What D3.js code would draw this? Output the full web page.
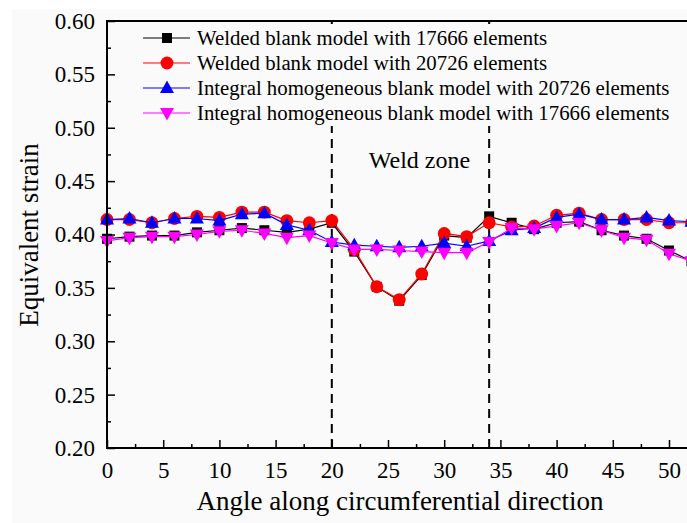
<!DOCTYPE html>
<html>
<head>
<meta charset="utf-8">
<script src="https://cdn.jsdelivr.net/npm/d3@7/dist/d3.min.js"></script>
<style>
  body { margin: 0; background: #fff; }
  svg { display: block; font-family: "Liberation Serif", "Times New Roman", serif; }
</style>
</head>
<body>
<svg id="chart" width="687" height="523"></svg>
<script>
// angle positions (deg) along the circumference
var angles = [0, 2, 4, 6, 8, 10, 12, 14, 16, 18, 20, 22, 24, 26, 28, 30, 32, 34, 36, 38, 40, 42, 44, 46, 48, 50, 52];

var welded17666 = [0.396, 0.398, 0.399, 0.399, 0.402, 0.404, 0.406, 0.404, 0.402, 0.405, 0.411, 0.384, 0.351, 0.338, 0.362, 0.399, 0.397, 0.417, 0.411, 0.405, 0.411, 0.412, 0.404, 0.399, 0.396, 0.385, 0.375];
var welded20726 = [0.414, 0.414, 0.411, 0.415, 0.417, 0.416, 0.421, 0.421, 0.413, 0.411, 0.413, 0.386, 0.351, 0.339, 0.363, 0.401, 0.398, 0.411, 0.407, 0.408, 0.418, 0.420, 0.414, 0.414, 0.414, 0.411, 0.411];
var integral20726 = [0.414, 0.415, 0.411, 0.415, 0.415, 0.413, 0.419, 0.420, 0.409, 0.404, 0.393, 0.390, 0.389, 0.388, 0.389, 0.392, 0.389, 0.394, 0.404, 0.406, 0.416, 0.419, 0.414, 0.414, 0.416, 0.413, 0.412];
var integral17666 = [0.394, 0.397, 0.398, 0.398, 0.400, 0.403, 0.404, 0.401, 0.397, 0.399, 0.392, 0.386, 0.386, 0.385, 0.384, 0.383, 0.383, 0.393, 0.406, 0.405, 0.408, 0.411, 0.404, 0.397, 0.395, 0.382, 0.375];

var seriesNames = [
  "Welded blank model with 17666 elements",
  "Welded blank model with 20726 elements",
  "Integral homogeneous blank model with 20726 elements",
  "Integral homogeneous blank model with 17666 elements"
];
var seriesColors = ["#000000", "#ff0000", "#0000ff", "#ff00ff"];
var seriesSymbols = ["square", "circle", "up", "down"];
var seriesValues = [welded17666, welded20726, integral20726, integral17666];

var xTicks = [0, 5, 10, 15, 20, 25, 30, 35, 40, 45, 50];
var yTicks = [0.20, 0.25, 0.30, 0.35, 0.40, 0.45, 0.50, 0.55, 0.60];
var weldBounds = [20, 34];

var svg = d3.select("#chart");

var plotLeft = 107, plotTop = 21, plotBottom = 448;

var x = d3.scaleLinear().domain([0, 52]).range([plotLeft, plotLeft + 52 * 11.24]);
var y = d3.scaleLinear().domain([0.2, 0.6]).range([plotBottom, plotTop]);

// light grey paper
svg.append("rect")
  .attr("x", 12).attr("y", 9)
  .attr("width", 687).attr("height", 523)
  .attr("fill", "#fafafa");

// axes: ticks point inward
var xAxis = d3.axisBottom(x).tickValues(xTicks).tickSize(-8).tickPadding(14)
  .tickFormat(d3.format("d"));
var xMinor = d3.axisBottom(x).tickValues(d3.range(2.5, 52, 5)).tickSize(-4).tickFormat("");
var yAxis = d3.axisLeft(y).tickValues(yTicks).tickSize(-8).tickPadding(12)
  .tickFormat(d3.format(".2f"));
var yMinor = d3.axisLeft(y).tickValues(d3.range(0.225, 0.6, 0.05)).tickSize(-4).tickFormat("");

function styleAxis(g) {
  g.select(".domain").remove();
  g.selectAll("line").attr("stroke", "#000").attr("stroke-width", 1.5);
  g.selectAll("text").attr("font-size", 23).attr("fill", "#000")
    .attr("font-family", "Liberation Serif, Times New Roman, serif");
}

svg.append("g").attr("transform", "translate(0," + plotBottom + ")").call(xAxis).call(styleAxis);
svg.append("g").attr("transform", "translate(0," + plotBottom + ")").call(xMinor).call(styleAxis);
svg.append("g").attr("transform", "translate(" + plotLeft + ",0)").call(yAxis).call(styleAxis);
svg.append("g").attr("transform", "translate(" + plotLeft + ",0)").call(yMinor).call(styleAxis);

// weld zone boundaries
svg.selectAll(".weld")
  .data(weldBounds)
  .enter().append("line")
  .attr("class", "weld")
  .attr("x1", function(d) { return x(d); })
  .attr("x2", function(d) { return x(d); })
  .attr("y1", plotBottom)
  .attr("y2", plotTop)
  .attr("stroke", "#000")
  .attr("stroke-width", 2)
  .attr("stroke-dasharray", "9,6");

svg.append("text")
  .attr("x", x((weldBounds[0] + weldBounds[1]) / 2) + 9)
  .attr("y", 168)
  .attr("text-anchor", "middle")
  .attr("font-size", 24)
  .text("Weld zone");

// marker shapes
function symbolPath(kind) {
  if (kind === "square") return d3.symbol().type(d3.symbolSquare).size(100)();
  if (kind === "circle") return d3.symbol().type(d3.symbolCircle).size(130)();
  if (kind === "up") return "M0,-7.5L7,5L-7,5Z";
  return "M0,7.5L7,-5L-7,-5Z";
}

var line = d3.line()
  .x(function(d) { return x(d[0]); })
  .y(function(d) { return y(d[1]); });

seriesValues.forEach(function(vals, i) {
  var pts = angles.map(function(a, j) { return [a, vals[j]]; });
  var g = svg.append("g");
  g.append("path")
    .datum(pts)
    .attr("d", line)
    .attr("fill", "none")
    .attr("stroke", seriesColors[i])
    .attr("stroke-width", 1.2);
  g.selectAll("path.mark")
    .data(pts)
    .enter().append("path")
    .attr("class", "mark")
    .attr("transform", function(d) { return "translate(" + x(d[0]) + "," + y(d[1]) + ")"; })
    .attr("d", symbolPath(seriesSymbols[i]))
    .attr("fill", seriesColors[i]);
});

// legend, on its own backing so the dashed lines stop beneath it
var legend = svg.append("g");
legend.append("rect")
  .attr("x", 136).attr("y", 24)
  .attr("width", 550).attr("height", 102)
  .attr("fill", "#fafafa");
seriesNames.forEach(function(name, i) {
  var ly = 38 + i * 25;
  legend.append("line")
    .attr("x1", 143).attr("x2", 190)
    .attr("y1", ly).attr("y2", ly)
    .attr("stroke", seriesColors[i]).attr("stroke-width", 1.2);
  legend.append("path")
    .attr("transform", "translate(167," + ly + ")")
    .attr("d", symbolPath(seriesSymbols[i]))
    .attr("fill", seriesColors[i]);
  legend.append("text")
    .attr("x", 197).attr("y", ly + 7)
    .attr("font-size", 20.8)
    .text(name);
});

// frame (right side runs off the page)
svg.append("path")
  .attr("d", "M700," + plotTop + "H" + plotLeft + "V" + plotBottom + "H700")
  .attr("fill", "none").attr("stroke", "#000").attr("stroke-width", 2);

// axis titles
svg.append("text")
  .attr("x", 400).attr("y", 510)
  .attr("text-anchor", "middle")
  .attr("font-size", 27)
  .text("Angle along circumferential direction");

svg.append("text")
  .attr("transform", "translate(38,235) rotate(-90)")
  .attr("text-anchor", "middle")
  .attr("font-size", 27)
  .text("Equivalent strain");
</script>
</body>
</html>
